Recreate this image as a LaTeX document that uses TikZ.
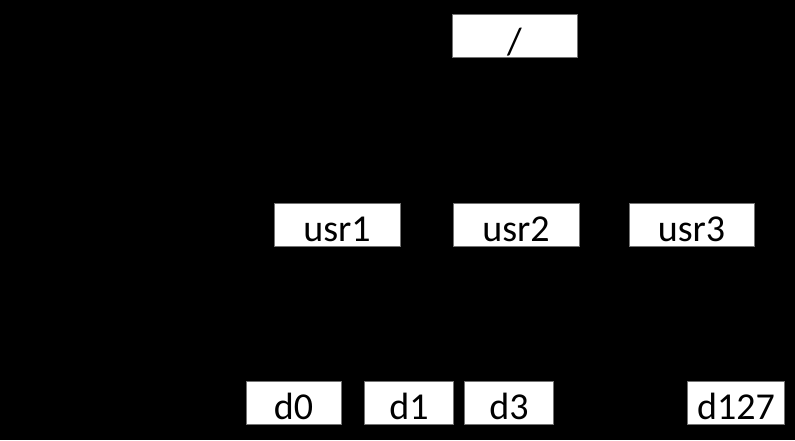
\documentclass[tikz,border=0pt]{standalone}
\usepackage{fontspec}
\setmainfont{Carlito}
\usepackage{tikz}

\begin{document}
\begin{tikzpicture}[x=1pt,y=-1pt,
  dirbox/.style={draw=black!55,line width=0.8pt,fill=white,inner sep=0pt,
    minimum height=43pt,text height=38pt,text depth=5pt,
    font=\fontsize{38}{42}\selectfont}]
\useasboundingbox (0,0) rectangle (795,440);
\fill[black] (0,0) rectangle (795,440);
% root
\node[dirbox,minimum width=125pt,text height=40pt,text depth=3pt] (root) at (514.5,35.5) {/};
% users
\node[dirbox,minimum width=126pt] (usr1) at (337,224.5) {usr1};
\node[dirbox,minimum width=126pt] (usr2) at (516,224.5) {usr2};
\node[dirbox,minimum width=125pt] (usr3) at (691.5,224.5) {usr3};
% data
\node[dirbox,minimum width=95pt] (d0) at (293.5,402.5) {d0};
\node[dirbox,minimum width=89pt] (d1) at (409,402.5) {d1};
\node[dirbox,minimum width=88.5pt] (d3) at (509,402.5) {d3};
\node[dirbox,minimum width=96.5pt] (d127) at (736,402.5) {d127};
\end{tikzpicture}
\end{document}
